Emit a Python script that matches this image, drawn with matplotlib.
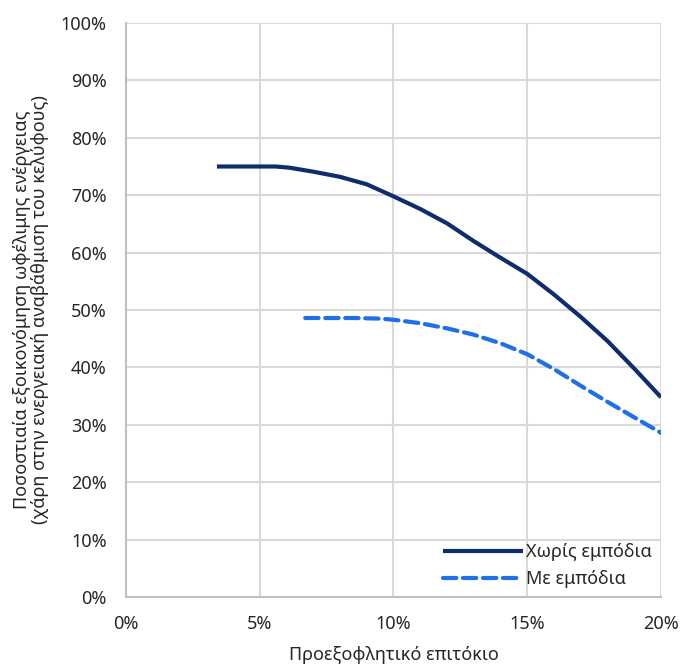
#! /usr/bin/env python3
# -*- coding: utf-8 -*-

import numpy as np
import matplotlib
matplotlib.use('Agg')
import matplotlib.pyplot as plt
from matplotlib.ticker import FuncFormatter

plt.rcParams['font.family'] = ['Noto Sans', 'DejaVu Sans']

# discount rate (%) and savings (%)
rate_free = [3.4, 4.0, 5.0, 5.6, 6.1, 7.0, 8.0, 9.0, 10.0, 11.0, 12.0, 13.0,
             14.0, 15.0, 16.0, 17.0, 18.0, 19.0, 20.0]
save_free = [75.0, 75.0, 75.0, 75.0, 74.8, 74.1, 73.2, 71.9, 69.8, 67.6, 65.1,
             62.0, 59.1, 56.3, 52.7, 48.8, 44.6, 39.8, 34.8]

rate_barr = [6.7, 7.5, 8.5, 9.5, 10.0, 11.0, 12.0, 13.0, 14.0, 15.0, 16.0,
             17.0, 18.0, 19.0, 20.0]
save_barr = [48.6, 48.6, 48.6, 48.5, 48.3, 47.7, 46.8, 45.7, 44.2, 42.3, 39.7,
             36.8, 34.0, 31.3, 28.6]

labels = ['Χωρίς εμπόδια', 'Με εμπόδια']

FS = 13
TXT = '#262626'


def main():
    fig = plt.figure(figsize=(6.8, 6.67), dpi=100)
    ax = fig.add_axes([0.1853, 0.105, 0.7867, 0.8605])

    ax.plot(rate_free, save_free, color='#0D2D6C', lw=3, solid_capstyle='butt',
            label=labels[0])
    ax.plot(rate_barr, save_barr, color='#1F6FE8', lw=3, dashes=(3.2, 1.6),
            dash_capstyle='round', label=labels[1])

    ax.set_xlim(0, 20)
    ax.set_ylim(0, 100)
    ax.set_xticks(np.arange(0, 21, 5))
    ax.set_yticks(np.arange(0, 101, 10))
    ax.xaxis.set_major_formatter(FuncFormatter(lambda v, p: '%d%%' % v))
    ax.yaxis.set_major_formatter(FuncFormatter(lambda v, p: '%d%%' % v))
    ax.tick_params(length=0, labelsize=FS, colors=TXT)
    ax.tick_params(axis='x', pad=13)
    ax.tick_params(axis='y', pad=14)

    ax.grid(True, color='#D9D9D9', lw=1.5)
    ax.set_axisbelow(True)
    for s in ['top', 'right']:
        ax.spines[s].set_visible(False)
    for s in ['left', 'bottom']:
        ax.spines[s].set_color('#BFBFBF')
        ax.spines[s].set_linewidth(1.5)

    ax.set_xlabel('Προεξοφλητικό επιτόκιο', fontsize=FS, color=TXT,
                  labelpad=9)
    ax.set_ylabel('Ποσοστιαία εξοικονόμηση ωφέλιμης ενέργειας\n'
                  '(χάρη στην ενεργειακή αναβάθμιση του κελύφους)',
                  fontsize=FS, color=TXT, labelpad=8, linespacing=1.05)

    leg = ax.legend(loc='lower right', frameon=False, fontsize=FS,
                    handlelength=4.4, handletextpad=0.2, labelspacing=0.5,
                    borderpad=0, borderaxespad=0.5)
    for t in leg.get_texts():
        t.set_color(TXT)

    plt.savefig('out.png', dpi=100)
    plt.close()


if __name__ == '__main__':
    main()
